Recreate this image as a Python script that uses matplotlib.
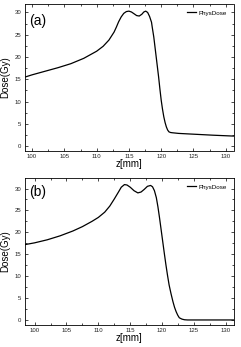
import matplotlib
matplotlib.use("Agg")
import matplotlib.pyplot as plt
from matplotlib.ticker import MultipleLocator

plt.rcParams['font.family'] = ['Liberation Sans', 'DejaVu Sans']

# Panel (a) data
z_a = [98.9, 100, 102, 104, 106, 108, 110, 111, 111.9, 112.7, 113.05, 113.4, 113.8,
       114.2, 114.6, 115.0, 115.4, 115.8, 116.2, 116.6, 117.0, 117.3, 117.6, 117.9,
       118.2, 118.5, 118.6, 118.85, 119.1, 119.35, 119.6, 119.8, 120.0, 120.2, 120.4,
       120.6, 120.8, 121.0, 121.2, 121.45, 121.7, 122.7, 124, 126, 128, 131.2]
d_a = [15.5, 16.0, 16.8, 17.6, 18.5, 19.7, 21.3, 22.4, 23.8, 25.6, 26.7, 27.9, 29.0,
       29.8, 30.2, 30.3, 30.1, 29.7, 29.3, 29.2, 29.6, 30.1, 30.3, 30.0,
       29.1, 27.8, 26.8, 24.5, 21.5, 18.5, 15.5, 12.8, 10.3, 8.3, 6.6,
       5.3, 4.3, 3.6, 3.2, 3.05, 3.0, 2.85, 2.75, 2.6, 2.45, 2.25]

# Panel (b) data
z_b = [98.5, 100, 102, 104, 106, 107.5, 109, 110, 111, 111.8, 112.5, 113.2, 113.6,
       114.1, 114.5, 115.0, 115.6, 116.2, 116.7, 117.2, 117.7, 118.2, 118.5, 118.8,
       119.1, 119.35, 119.6, 119.85, 120.1, 120.35, 120.6, 120.85, 121.1, 121.4,
       121.7, 121.95, 122.2, 122.45, 122.7, 123.1, 123.5, 124.0, 126, 128, 131.2]
d_b = [17.2, 17.6, 18.3, 19.2, 20.3, 21.3, 22.5, 23.4, 24.6, 26.0, 27.6, 29.3, 30.3,
       30.9, 30.8, 30.3, 29.5, 29.0, 29.2, 29.8, 30.5, 30.7, 30.4, 29.5,
       27.9, 25.8, 23.3, 20.6, 17.9, 15.2, 12.6, 10.2, 8.0, 6.0,
       4.2, 2.9, 1.9, 1.1, 0.5, 0.2, 0.05, 0.0, 0.0, 0.0, 0.0]

xticks = [100, 105, 110, 115, 120, 125, 130]
yticks = [0, 5, 10, 15, 20, 25, 30]
series_label = "PhysDose"

fig = plt.figure(figsize=(2.41, 3.47), dpi=100)
W, H = 241, 347

def make_ax(left, right, top, bottom):
    return fig.add_axes([left / W, 1 - bottom / H, (right - left) / W, (bottom - top) / H])

ax_a = make_ax(25, 233.5, 4, 151)
ax_b = make_ax(25, 233.5, 178, 325)

panels = [
    (ax_a, z_a, d_a, "(a)", (98.9, 131.2), (-1.1, 31.9), 0.884),
    (ax_b, z_b, d_b, "(b)", (98.5, 131.2), (-1.15, 32.4), 0.905),
]

for ax, z, d, tag, xl, yl, ty in panels:
    ax.plot(z, d, color='black', lw=0.9, label=series_label,
            solid_joinstyle='round')
    ax.set_xlim(*xl)
    ax.set_ylim(*yl)
    ax.set_xticks(xticks)
    ax.set_yticks(yticks)
    ax.xaxis.set_minor_locator(MultipleLocator(2.5))
    ax.yaxis.set_minor_locator(MultipleLocator(2.5))
    ax.tick_params(which='both', direction='in', top=True, right=True,
                   labelsize=4.3, width=0.5, pad=2.5, labelcolor='#222222')
    ax.tick_params(which='major', length=2)
    ax.tick_params(which='minor', length=1.2)
    for s in ax.spines.values():
        s.set_linewidth(0.6)
    ax.set_xlabel("z[mm]", fontsize=7, labelpad=0)
    ax.set_ylabel("Dose(Gy)", fontsize=7, labelpad=3)
    ax.text(0.06, ty, tag, transform=ax.transAxes, fontsize=10,
            ha='center', va='center')
    ax.legend(loc='upper right', frameon=False, fontsize=4.5,
              handlelength=1.5, handletextpad=0.4, borderaxespad=0.6)

fig.savefig("out.png", dpi=100)
